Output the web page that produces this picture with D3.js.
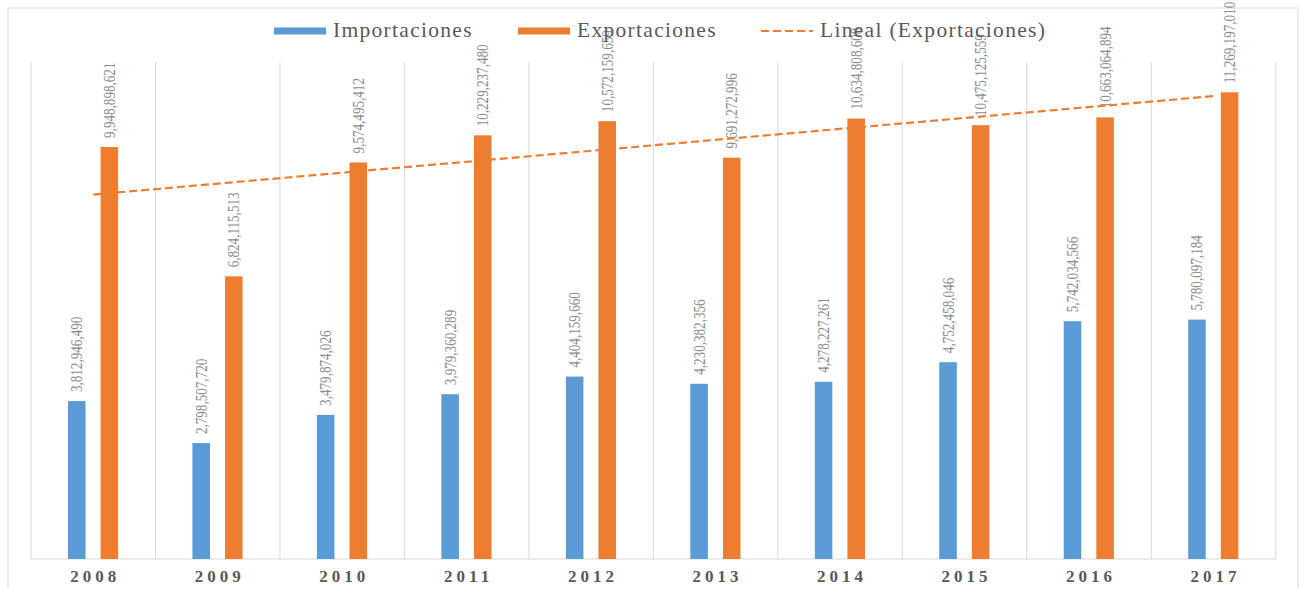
<!DOCTYPE html>
<html><head><meta charset="utf-8">
<script src="https://cdn.jsdelivr.net/npm/d3@7"></script>
<style>body{margin:0;background:#fff}svg{display:block}</style>
</head><body>
<script>
const years = ["2008","2009","2010","2011","2012","2013","2014","2015","2016","2017"];
const importaciones = [3812946490, 2798507720, 3479874026, 3979360289, 4404159660, 4230382356, 4278227261, 4752458046, 5742034566, 5780097184];
const exportaciones = [9948898621, 6824115513, 9574495412, 10229237480, 10572159659, 9691272996, 10634808608, 10475125559, 10663064894, 11269197010];
const seriesNames = ["Importaciones", "Exportaciones"];
const legendLabels = ["Importaciones", "Exportaciones", "Lineal (Exportaciones)"];
const colors = {Importaciones: "#5B9BD5", Exportaciones: "#ED7D31"};

const W = 1304, H = 589;
const plot = {left: 31, right: 1275.7, top: 62, bottom: 559};
const svg = d3.select("body").append("svg").attr("width", W).attr("height", H);

// outer frame
svg.append("rect").attr("x", 8).attr("y", 8).attr("width", 1290).attr("height", 600)
  .attr("fill", "none").attr("stroke", "#d9d9d9").attr("stroke-width", 1);

const x0 = d3.scaleBand().domain(years).range([plot.left, plot.right]).padding(0);
const bw = x0.bandwidth();
const x1 = d3.scaleBand().domain(seriesNames).range([bw * 0.297, bw * 0.7]).paddingInner(0.4615).paddingOuter(0);
const y = d3.scaleLinear().domain([0, 12e9]).range([plot.bottom, plot.top]);

// vertical gridlines at category boundaries
const bounds = years.map(d => x0(d)).concat([plot.right]);
svg.append("g").selectAll("line").data(bounds).join("line")
  .attr("x1", d => d).attr("x2", d => d).attr("y1", plot.top).attr("y2", plot.bottom)
  .attr("stroke", "#d9d9d9").attr("stroke-width", 1);

// baseline
svg.append("line").attr("x1", plot.left).attr("x2", plot.right).attr("y1", plot.bottom).attr("y2", plot.bottom)
  .attr("stroke", "#d9d9d9").attr("stroke-width", 1.2);

const rows = years.map((yr, i) => ({year: yr, Importaciones: importaciones[i], Exportaciones: exportaciones[i]}));
const fmt = d3.format(",");

const groups = svg.append("g").selectAll("g").data(rows).join("g")
  .attr("transform", d => `translate(${x0(d.year)},0)`);

groups.selectAll("rect").data(d => seriesNames.map(s => ({s, v: d[s]}))).join("rect")
  .attr("x", d => x1(d.s)).attr("width", x1.bandwidth())
  .attr("y", d => y(d.v)).attr("height", d => y(0) - y(d.v))
  .attr("fill", d => colors[d.s]);

// data labels (rotated)
groups.selectAll("text").data(d => seriesNames.map(s => ({s, v: d[s]}))).join("text")
  .attr("transform", d => `translate(${x1(d.s) + x1.bandwidth() / 2 + 5.5},${y(d.v) - 9}) rotate(-90) scale(0.82,1)`)
  .attr("font-family", "'Liberation Serif', serif").attr("font-size", 16)
  .attr("fill", "#8c8c8c").text(d => fmt(d.v));

// x axis labels
svg.append("g").selectAll("text").data(years).join("text")
  .attr("x", d => x0(d) + bw / 2 + 2).attr("y", 582)
  .attr("text-anchor", "middle")
  .attr("font-family", "'Liberation Serif', serif").attr("font-weight", "bold")
  .attr("font-size", 17).attr("letter-spacing", 4).attr("fill", "#595959")
  .text(d => d);

// linear trendline for exports
const n = exportaciones.length;
const xs = d3.range(n);
const mx = d3.mean(xs), my = d3.mean(exportaciones);
const slope = d3.sum(xs, i => (i - mx) * (exportaciones[i] - my)) / d3.sum(xs, i => (i - mx) ** 2);
const icpt = my - slope * mx;
const trend = [0, n - 1].map(i => ({x: x0(years[i]) + bw / 2, v: icpt + slope * i}));
svg.append("path")
  .attr("d", d3.line().x(d => d.x).y(d => y(d.v))(trend))
  .attr("fill", "none").attr("stroke", "#ED7D31").attr("stroke-width", 2.2)
  .attr("stroke-dasharray", "8,4");

// legend
const legendX = [274, 518, 761];
const leg = svg.append("g");
legendLabels.forEach((lab, i) => {
  const g = leg.append("g").attr("transform", `translate(${legendX[i]},0)`);
  if (i < 2) {
    g.append("rect").attr("x", 0).attr("y", 27.5).attr("width", 52).attr("height", 7)
      .attr("fill", colors[seriesNames[i]]);
  } else {
    g.append("line").attr("x1", 0).attr("x2", 52).attr("y1", 31).attr("y2", 31)
      .attr("stroke", "#ED7D31").attr("stroke-width", 2.2).attr("stroke-dasharray", "8,4");
  }
  g.append("text").attr("x", 59).attr("y", 37)
    .attr("font-family", "'Liberation Serif', serif").attr("font-size", 21.5)
    .attr("letter-spacing", 1.3).attr("fill", "#595959").text(lab);
});
</script>
</body></html>
